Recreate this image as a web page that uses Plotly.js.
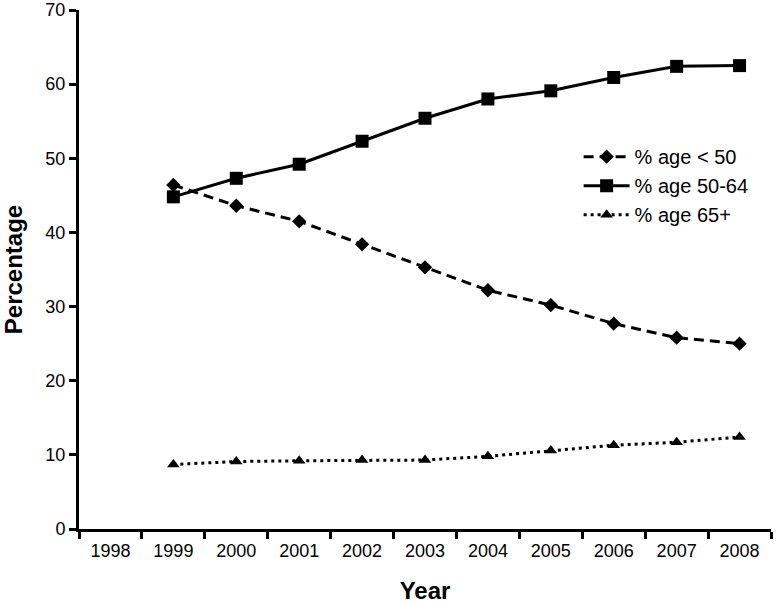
<!DOCTYPE html>
<html>
<head>
<meta charset="utf-8">
<script src="https://cdn.plot.ly/plotly-3.0.1.min.js"></script>
<style>
  html, body { margin: 0; padding: 0; background: #fff; }
  #chart { width: 776px; height: 604px; }
</style>
</head>
<body>
<div id="chart"></div>
<script>
// Year categories (1998 shown on the axis but has no data)
var years = ['1998', '1999', '2000', '2001', '2002', '2003', '2004', '2005', '2006', '2007', '2008'];
var dataYears = ['1999', '2000', '2001', '2002', '2003', '2004', '2005', '2006', '2007', '2008'];

var under50 = [46.4, 43.6, 41.5, 38.4, 35.3, 32.2, 30.2, 27.7, 25.8, 25.0];
var age50to64 = [44.8, 47.3, 49.2, 52.3, 55.4, 58.0, 59.1, 60.9, 62.4, 62.5];
var age65plus = [8.7, 9.1, 9.2, 9.3, 9.3, 9.8, 10.6, 11.3, 11.7, 12.4];

var fontFamily = 'Liberation Sans, Arial, Helvetica, sans-serif';

function series(y, name, dash, symbol, size) {
    return {
        x: dataYears,
        y: y,
        name: name,
        type: 'scatter',
        mode: 'lines+markers',
        line: { color: '#000', width: 3, dash: dash },
        marker: { color: '#000', symbol: symbol, size: size }
    };
}

var data = [
    series(under50, '% age < 50', '10px,6px', 'diamond', 11),
    series(age50to64, '% age 50-64', 'solid', 'square', 13),
    series(age65plus, '% age 65+', '3px,4px', 'triangle-up', 11)
];

var layout = {
    width: 776,
    height: 604,
    margin: { l: 79, r: 5, t: 10, b: 75 },
    paper_bgcolor: '#fff',
    plot_bgcolor: '#fff',
    font: { family: fontFamily, color: '#000', size: 18 },
    showlegend: true,
    legend: {
        x: 0.722,
        y: 0.755,
        xanchor: 'left',
        yanchor: 'top',
        bgcolor: 'rgba(0,0,0,0)',
        font: { size: 20, family: fontFamily },
        itemwidth: 46
    },
    xaxis: {
        type: 'category',
        categoryorder: 'array',
        categoryarray: years,
        range: [-0.5, 10.5],
        tickson: 'boundaries',
        ticks: 'outside',
        ticklen: 7,
        tickwidth: 3,
        tickcolor: '#000',
        ticklabelstandoff: 3,
        showline: true,
        linewidth: 3,
        linecolor: '#000',
        showgrid: false,
        zeroline: false,
        tickfont: { size: 18 },
        title: { text: '<b>Year</b>', font: { size: 24 }, standoff: 24 }
    },
    yaxis: {
        range: [0, 70],
        tickvals: [0, 10, 20, 30, 40, 50, 60, 70],
        ticks: 'outside',
        ticklen: 7,
        tickwidth: 3,
        tickcolor: '#000',
        showline: true,
        linewidth: 3,
        linecolor: '#000',
        showgrid: false,
        zeroline: false,
        tickfont: { size: 18 },
        title: { text: '<b>Percentage</b>', font: { size: 24 }, standoff: 16 }
    }
};

Plotly.newPlot('chart', data, layout, { displayModeBar: false, staticPlot: true });
</script>
</body>
</html>
